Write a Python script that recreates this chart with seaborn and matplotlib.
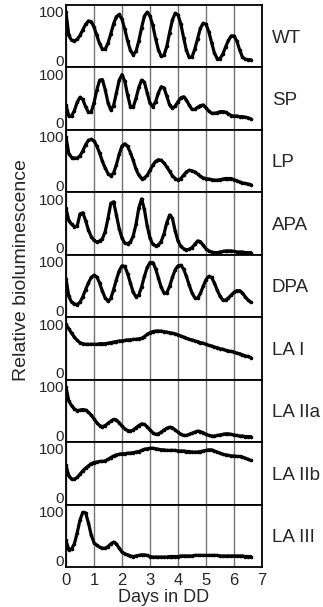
import matplotlib.pyplot as plt
import numpy as np
import seaborn as sns
from matplotlib.transforms import ScaledTranslation

# time axis: readings every 0.1 day in constant darkness
days = np.linspace(0, 6.6, 67)

wt = [100, 58, 49, 48, 51, 58, 68, 78, 84, 83,
      73, 58, 43, 33, 33, 44, 61, 79, 92, 96,
      87, 69, 48, 31, 23, 29, 48, 72, 93, 100,
      93, 76, 52, 32, 20, 22, 38, 63, 86, 98,
      95, 79, 54, 31, 18, 19, 33, 52, 71, 80,
      78, 65, 45, 26, 16, 16, 24, 37, 49, 57,
      57, 48, 32, 19, 15, 14, 14]
sp = [45, 25, 25, 35, 50, 59, 55, 42, 32, 32,
      49, 72, 90, 91, 73, 49, 36, 44, 67, 90,
      100, 88, 63, 42, 41, 57, 77, 90, 86, 67,
      48, 42, 51, 67, 78, 76, 61, 45, 39, 43,
      51, 58, 60, 54, 45, 37, 37, 41, 44, 45,
      40, 34, 30, 30, 31, 33, 33, 32, 29, 26,
      25, 25, 24, 24, 23, 22, 20]
lp = [100, 70, 63, 62, 62, 66, 75, 86, 94, 96,
      93, 84, 71, 56, 44, 34, 30, 35, 50, 69,
      84, 88, 83, 72, 58, 42, 31, 25, 26, 31,
      40, 49, 56, 59, 58, 53, 46, 38, 30, 25,
      22, 25, 31, 37, 40, 39, 37, 33, 29, 26,
      25, 24, 23, 22, 22, 23, 24, 25, 25, 25,
      23, 21, 19, 17, 16, 15, 14]
apa = [84, 62, 55, 51, 52, 74, 76, 62, 45, 33,
       26, 23, 25, 29, 42, 66, 93, 96, 72, 47,
       30, 21, 20, 23, 34, 55, 85, 101, 82, 52,
       30, 19, 16, 18, 24, 38, 58, 72, 66, 43,
       25, 15, 11, 9, 10, 13, 19, 25, 24, 17,
       11, 7, 5, 4, 4, 5, 6, 7, 7, 7,
       6, 5, 5, 5, 4, 4, 4]
dpa = [70, 38, 27, 24, 23, 27, 37, 50, 62, 72,
       76, 73, 62, 47, 35, 29, 34, 50, 68, 84,
       93, 92, 79, 62, 45, 37, 40, 55, 74, 90,
       99, 99, 88, 71, 54, 44, 44, 56, 72, 86,
       93, 94, 87, 74, 58, 44, 35, 34, 43, 56,
       68, 74, 72, 62, 49, 38, 31, 31, 35, 40,
       45, 48, 48, 44, 37, 31, 27]
la1 = [100, 92, 84, 77, 71, 67, 65, 64, 64, 64,
       64, 64, 65, 65, 65, 66, 67, 68, 69, 70,
       70, 71, 72, 72, 73, 73, 74, 75, 78, 82,
       85, 87, 88, 88, 88, 87, 86, 85, 84, 83,
       81, 79, 77, 75, 73, 72, 70, 69, 67, 66,
       64, 62, 61, 59, 58, 56, 55, 53, 52, 51,
       50, 48, 47, 45, 43, 42, 40]
la2a = [100, 74, 66, 60, 57, 58, 59, 58, 54, 49,
        42, 35, 30, 28, 30, 34, 38, 41, 40, 35,
        29, 24, 21, 20, 22, 26, 30, 33, 32, 28,
        22, 17, 14, 15, 18, 22, 25, 27, 26, 22,
        18, 14, 12, 12, 14, 16, 18, 20, 19, 17,
        14, 12, 11, 11, 12, 13, 14, 15, 15, 14,
        13, 12, 11, 11, 10, 10, 10]
la2b = [71, 52, 46, 46, 49, 55, 61, 66, 70, 74,
        76, 77, 78, 78, 79, 82, 85, 88, 90, 91,
        92, 92, 93, 93, 94, 95, 96, 98, 100, 101,
        102, 102, 101, 100, 99, 99, 98, 98, 98, 98,
        97, 97, 97, 96, 96, 95, 95, 95, 96, 97,
        98, 99, 99, 97, 95, 93, 91, 90, 89, 88,
        88, 87, 87, 86, 84, 82, 80]
la3 = [48, 31, 33, 42, 62, 85, 99, 98, 80, 58,
       44, 39, 36, 34, 34, 37, 42, 45, 42, 34,
       27, 24, 22, 20, 19, 20, 21, 22, 22, 21,
       19, 18, 18, 18, 18, 18, 18, 19, 19, 19,
       19, 20, 20, 20, 20, 20, 21, 21, 21, 21,
       21, 21, 21, 21, 21, 20, 20, 20, 20, 20,
       20, 20, 20, 20, 19, 19, 19]

strains = ["WT", "SP", "LP", "APA", "DPA", "LA I", "LA IIa", "LA IIb", "LA III"]
series = [wt, sp, lp, apa, dpa, la1, la2a, la2b, la3]

sns.set_style("white")
plt.rcParams["font.family"] = ["Liberation Sans", "DejaVu Sans"]

fig, axes = plt.subplots(9, 1, figsize=(3.23, 6.07), dpi=100, sharex=True)
fig.subplots_adjust(left=66 / 323, right=262 / 323, top=1 - 5 / 607,
                    bottom=1 - 567 / 607, hspace=0)

for ax, name, vals in zip(axes, strains, series):
    sns.lineplot(x=days, y=vals, ax=ax, color="black", lw=2.3,
                 marker="o", markersize=2.6, markeredgewidth=0)
    ax.set_xlim(0, 7)
    ax.set_ylim(0, 113)
    ax.set_xticks(range(8))
    ax.grid(axis="x", color="0.45", lw=1)
    ax.set_yticks([0, 100], ["0", "100"])
    ax.tick_params(axis="y", direction="in", length=2.5, pad=1.5, labelsize=11)
    ax.tick_params(axis="x", length=0, labelsize=12, pad=4)
    for s in ax.spines.values():
        s.set_color("black")
        s.set_linewidth(1.3)
    labs = ax.get_yticklabels()
    labs[0].set_va("bottom")
    labs[0].set_transform(labs[0].get_transform()
                          + ScaledTranslation(0, -0.015, fig.dpi_scale_trans))
    labs[1].set_va("top")
    labs[1].set_transform(labs[1].get_transform()
                          + ScaledTranslation(0, 0.058, fig.dpi_scale_trans))
    ax.text(1.05, 0.47, name, transform=ax.transAxes, va="center", fontsize=13.5)

axes[-1].set_xlabel("Days in DD", fontsize=13, labelpad=1)
fig.text(22 / 323, 1 - 270 / 607, "Relative bioluminescence", rotation=90,
         ha="center", va="center", fontsize=14)

plt.savefig("out.png", dpi=100)
